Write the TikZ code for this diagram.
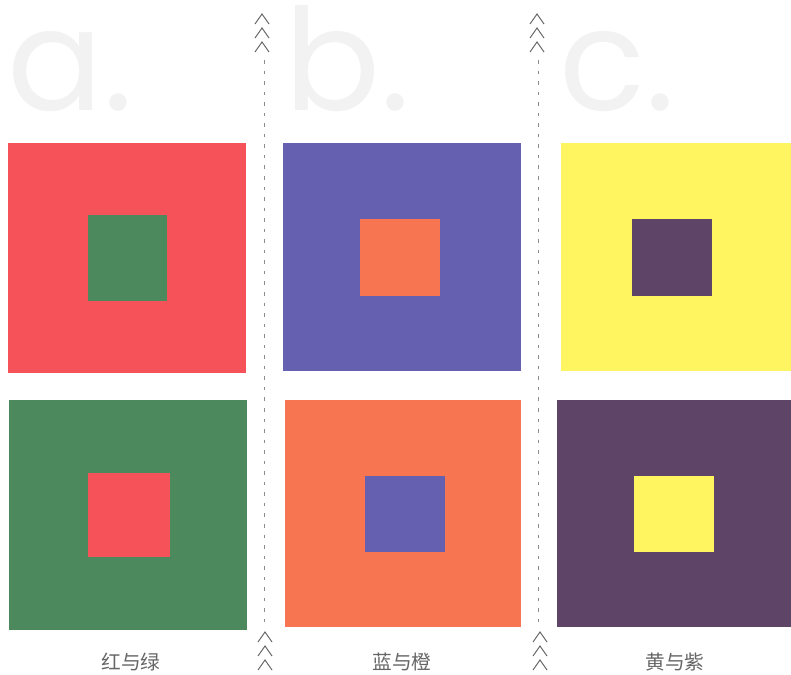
\documentclass[tikz,border=0pt]{standalone}
\usepackage{fontspec}
\setmainfont{Poppins}
\newfontfamily\cjk{Noto Sans CJK SC}
\usetikzlibrary{positioning,calc}
\definecolor{hred}{HTML}{F5525A}
\definecolor{hgreen}{HTML}{4C8A5E}
\definecolor{hblue}{HTML}{6560B0}
\definecolor{horange}{HTML}{F87552}
\definecolor{hyellow}{HTML}{FFF560}
\definecolor{hpurple}{HTML}{5E4467}

\begin{document}
\begin{tikzpicture}[x=0.025cm,y=-0.025cm,
    bigletter/.style={text=black!5,font=\fontsize{101}{101}\selectfont,anchor=base west,inner sep=0pt},
    caption/.style={text=black!60,font=\cjk\fontsize{14}{16}\selectfont,inner sep=0pt},
    chev/.style={draw=black!60,line width=0.7pt},
    sep/.style={draw=black!45,dash pattern=on 2.5pt off 5pt,line width=0.4pt}]
	\useasboundingbox (0,0) rectangle (791,675);
	% big letters
	\node[bigletter] (la) at (7,111) {a.};
	\node[bigletter] (lb) at (284,111) {b.};
	\node[bigletter] (lc) at (559,111) {c.};
	% column a
	\fill[hred] (8,143) rectangle (246,373);
	\fill[hgreen] (88,215) rectangle (167,301);
	\fill[hgreen] (9,400) rectangle (247,630);
	\fill[hred] (88,473) rectangle (170,557);
	% column b
	\fill[hblue] (283,143) rectangle (521,371);
	\fill[horange] (360,219) rectangle (440,296);
	\fill[horange] (285,400) rectangle (521,627);
	\fill[hblue] (365,476) rectangle (445,552);
	% column c
	\fill[hyellow] (561,143) rectangle (791,371);
	\fill[hpurple] (632,219) rectangle (712,296);
	\fill[hpurple] (557,400) rectangle (791,627);
	\fill[hyellow] (634,476) rectangle (714,552);
	% separators
	\coordinate (s1t) at (264,60);
	\coordinate (s1b) at (264,626);
	\coordinate (s2t) at (538,60);
	\coordinate (s2b) at (538,626);
	\draw[sep] (s1t) -- (s1b);
	\draw[sep] (s2t) -- (s2b);
	\foreach \x/\y in {262/14,265/632,537/14,540/632}
		\foreach \k in {0,1,2}
			\draw[chev] (\x-7,\y+\k*14+10) -- (\x,\y+\k*14) -- (\x+7,\y+\k*14+10);
	% captions
	\node[caption] (ca) at (131,662) {红与绿};
	\node[caption] (cb) at (402,662) {蓝与橙};
	\node[caption] (cc) at (675,662) {黄与紫};
\end{tikzpicture}
\end{document}
